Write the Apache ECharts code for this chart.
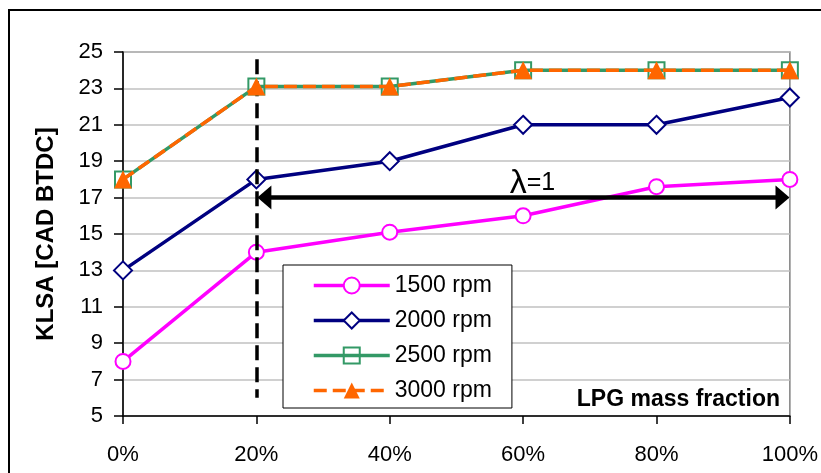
<!DOCTYPE html>
<html>
<head>
<meta charset="utf-8">
<script src="https://cdn.jsdelivr.net/npm/echarts@6/dist/echarts.min.js"></script>
<style>
html,body{margin:0;padding:0;background:#fff;}
#c{width:821px;height:473px;}
</style>
</head>
<body>
<div id="c"></div>
<script>
// ---- data ----
const lpgFraction = [0, 20, 40, 60, 80, 100];          // %
const rpm1500 = [8, 14, 15.1, 16, 17.6, 18];
const rpm2000 = [13, 18, 19, 21, 21, 22.5];
const rpm2500 = [18, 23.1, 23.1, 24, 24, 24];
const rpm3000 = [18, 23.1, 23.1, 24, 24, 24];
const seriesNames = ['1500 rpm', '2000 rpm', '2500 rpm', '3000 rpm'];
const yAxisName = 'KLSA [CAD BTDC]';
const xAxisName = 'LPG mass fraction';
const lambdaStart = 20, lambdaEnd = 100, lambdaLevel = 17;

const pairs = arr => arr.map((v, i) => [lpgFraction[i], v]);
const FONT = 'Liberation Sans';

const chart = echarts.init(document.getElementById('c'), null, {renderer: 'canvas'});
chart.setOption({
  animation: false,
  backgroundColor: '#fff',
  graphic: [
    {type: 'rect', z: -10, shape: {x: 9, y: 10, width: 900, height: 600},
     style: {fill: 'none', stroke: '#000', lineWidth: 2}},
    {type: 'text', z: 10, x: 780, y: 400,
     style: {text: xAxisName, font: 'bold 23px "Liberation Sans"', fill: '#000',
             textAlign: 'right', textVerticalAlign: 'middle'}}
  ],
  grid: {left: 123, top: 52, right: 24, bottom: 57, show: true,
         borderColor: '#808080', borderWidth: 1.5, backgroundColor: 'transparent'},
  legend: {
    orient: 'vertical', left: 283, top: 265,
    data: seriesNames,
    backgroundColor: '#fff', borderColor: '#000', borderWidth: 1,
    padding: [9, 20, 6, 29], itemGap: 12, itemWidth: 76, itemHeight: 20,
    lineStyle: {width: 3.5},
    textStyle: {fontFamily: FONT, fontSize: 23, color: '#000', lineHeight: 22}
  },
  xAxis: {
    type: 'value', min: 0, max: 100, interval: 20,
    axisLine: {lineStyle: {color: '#000', width: 1.5}},
    axisTick: {show: true, inside: false, length: 8, lineStyle: {color: '#000', width: 1.5}},
    axisLabel: {formatter: '{value}%', fontFamily: FONT, fontSize: 22, color: '#000', margin: 28},
    splitLine: {show: false}
  },
  yAxis: {
    type: 'value', min: 5, max: 25, interval: 2,
    name: yAxisName, nameLocation: 'middle', nameGap: 65, nameRotate: 90,
    nameTextStyle: {fontFamily: FONT, fontSize: 24, fontWeight: 'bold', color: '#000'},
    axisLine: {show: true, lineStyle: {color: '#000', width: 1.5}},
    axisTick: {show: true, inside: false, length: 9, lineStyle: {color: '#000', width: 1.5}},
    axisLabel: {fontFamily: FONT, fontSize: 22, color: '#000', margin: 20},
    splitLine: {show: true, lineStyle: {color: '#c0c0c0', width: 1.5}}
  },
  series: [
    {
      name: seriesNames[0], type: 'line', data: pairs(rpm1500), z: 3,
      symbol: 'circle', symbolSize: 15,
      lineStyle: {color: '#ff00ff', width: 3.5},
      itemStyle: {color: '#fff', borderColor: '#ff00ff', borderWidth: 2},
      markLine: {
        silent: true, animation: false,
        data: [
          [{coord: [lambdaStart, 24.6], symbol: 'none',
            lineStyle: {color: '#000', width: 3.5, type: [15, 7]}, label: {show: false}},
           {coord: [lambdaStart, 6], symbol: 'none'}],
          [{coord: [lambdaStart + 1.2, lambdaLevel], symbol: 'triangle', symbolSize: [24, 14],
            lineStyle: {color: '#000', width: 4.5, type: 'solid'},
            label: {show: true, position: 'middle', distance: -3, padding: [0, 0, 0, 18],
                    formatter: '{a|λ}{b|=1}',
                    rich: {a: {fontFamily: 'Liberation Sans', fontSize: 34, color: '#000'},
                           b: {fontFamily: 'Liberation Sans', fontSize: 25, color: '#000'}}}},
           {coord: [lambdaEnd - 1.1, lambdaLevel], symbol: 'triangle', symbolSize: [24, 14]}]
        ],
        itemStyle: {color: '#000'}
      }
    },
    {
      name: seriesNames[1], type: 'line', data: pairs(rpm2000), z: 4,
      symbol: 'diamond', symbolSize: 18,
      lineStyle: {color: '#000080', width: 3.5},
      itemStyle: {color: '#fff', borderColor: '#000080', borderWidth: 2}
    },
    {
      name: seriesNames[2], type: 'line', data: pairs(rpm2500), z: 5,
      symbol: 'rect', symbolSize: 16,
      lineStyle: {color: '#339966', width: 3.5},
      itemStyle: {color: 'rgba(255,255,255,0)', borderColor: '#339966', borderWidth: 2}
    },
    {
      name: seriesNames[3], type: 'line', data: pairs(rpm3000), z: 6,
      symbol: 'triangle', symbolSize: 18,
      lineStyle: {color: '#ff6600', width: 3.5, type: [13, 6]},
      itemStyle: {color: '#ff6600', borderWidth: 0}
    }
  ]
});
</script>
</body>
</html>
